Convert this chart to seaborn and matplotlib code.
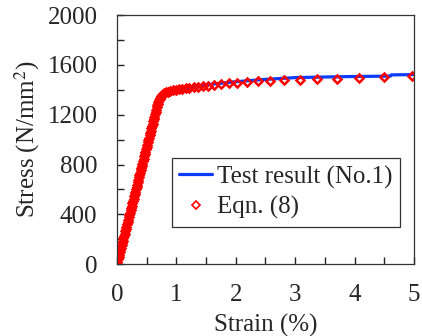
import numpy as np
import pandas as pd
import matplotlib
matplotlib.use("Agg")
from matplotlib import pyplot as plt
from matplotlib.ticker import MultipleLocator
import seaborn as sns

# Test result (No.1)
test_strain = [0.0, 0.67, 0.72, 0.76, 0.80, 0.90, 1.0, 1.25, 1.5, 1.75, 2.0, 2.5,
               2.83, 3.0, 3.5, 4.0, 4.6, 4.62, 5.0]
test_stress = [0, 1261, 1335, 1362, 1376, 1390, 1400, 1422, 1440, 1453, 1465, 1484,
               1493, 1498, 1503, 1507, 1510, 1520, 1522]

# Eqn. (8) points: dense along the elastic part, sparser on the plateau
eqn_strain = [0.00, 0.01, 0.02, 0.03, 0.04, 0.05, 0.06, 0.07, 0.08, 0.09,
              0.10, 0.11, 0.12, 0.13, 0.14, 0.15, 0.16, 0.17, 0.18, 0.19,
              0.20, 0.21, 0.22, 0.23, 0.24, 0.25, 0.26, 0.27, 0.28, 0.29,
              0.30, 0.31, 0.32, 0.33, 0.34, 0.35, 0.36, 0.37, 0.38, 0.39,
              0.40, 0.41, 0.42, 0.43, 0.44, 0.45, 0.46, 0.47, 0.48, 0.49,
              0.50, 0.51, 0.52, 0.53, 0.54, 0.55, 0.56, 0.57, 0.58, 0.59,
              0.60, 0.61, 0.62, 0.63, 0.64, 0.65, 0.66, 0.67, 0.68, 0.69,
              0.70, 0.71, 0.72, 0.73, 0.74, 0.76, 0.78, 0.80, 0.83, 0.86,
              0.90, 0.95, 1.00, 1.05, 1.10, 1.16, 1.22, 1.29, 1.36, 1.45,
              1.53, 1.63, 1.75, 1.89, 2.02, 2.19, 2.37, 2.58, 2.81, 3.08,
              3.37, 3.70, 4.07, 4.49, 4.97]
eqn_stress = [0, 19, 38, 56, 75, 94, 113, 132, 150, 169,
              188, 207, 226, 244, 263, 282, 301, 320, 338, 357,
              376, 395, 414, 432, 451, 470, 489, 508, 526, 545,
              564, 583, 602, 620, 639, 658, 677, 696, 714, 733,
              752, 771, 790, 808, 827, 846, 865, 884, 902, 921,
              940, 959, 978, 996, 1015, 1034, 1053, 1072, 1090, 1109,
              1128, 1147, 1166, 1184, 1203, 1222, 1241, 1258, 1274, 1290,
              1303, 1316, 1328, 1338, 1347, 1360, 1368, 1374, 1380, 1385,
              1390, 1395, 1400, 1404, 1408, 1412, 1416, 1420, 1424, 1429,
              1434, 1439, 1445, 1451, 1456, 1461, 1467, 1472, 1477, 1481,
              1486, 1490, 1497, 1503, 1509]

sns.set_style("ticks")
plt.rcParams['font.family'] = ['Liberation Serif', 'DejaVu Serif']
plt.rcParams['mathtext.fontset'] = 'stix'

fig = plt.figure(figsize=(4.22, 3.36), dpi=100)
ax = fig.add_axes([0.277, 0.214, 0.704, 0.741])

sns.lineplot(x=test_strain, y=test_stress, ax=ax, color='#0a3cff', linewidth=2.3,
             estimator=None, sort=False, label='Test result (No.1)')
sns.lineplot(x=eqn_strain, y=eqn_stress, ax=ax, color='red', linestyle='',
             marker='D', markersize=4.2, markerfacecolor='none',
             markeredgecolor='red', markeredgewidth=1.8,
             estimator=None, sort=False, label='Eqn. (8)')

ax.set_xlim(0, 5)
ax.set_ylim(0, 2000)
ax.xaxis.set_major_locator(MultipleLocator(1))
ax.xaxis.set_minor_locator(MultipleLocator(0.5))
ax.yaxis.set_major_locator(MultipleLocator(400))
ax.yaxis.set_minor_locator(MultipleLocator(200))
ax.tick_params(which='both', direction='in', length=5, width=1.0, color='#222222',
               top=False, right=False, bottom=True, left=True)
ax.tick_params(axis='y', which='major', labelsize=18, pad=14)
ax.tick_params(axis='x', which='major', labelsize=18, pad=14)
for s in ax.spines.values():
    s.set_color('#333333')
    s.set_linewidth(0.9)

ax.set_xlabel('Strain (%)', fontsize=18, labelpad=6)
ax.set_ylabel('Stress (N/mm$^2$)', fontsize=18, labelpad=4)

leg = ax.legend(loc='upper left', bbox_to_anchor=(0.185, 0.426), fontsize=18,
                frameon=True, fancybox=False, framealpha=1, edgecolor='#333333',
                handlelength=1.3, handletextpad=0.2, borderpad=0.3,
                labelspacing=0.3, borderaxespad=0)
leg.get_frame().set_linewidth(0.9)
for h in leg.legend_handles:
    h.set_markeredgewidth(1.2)

fig.savefig('out.png', dpi=100)
